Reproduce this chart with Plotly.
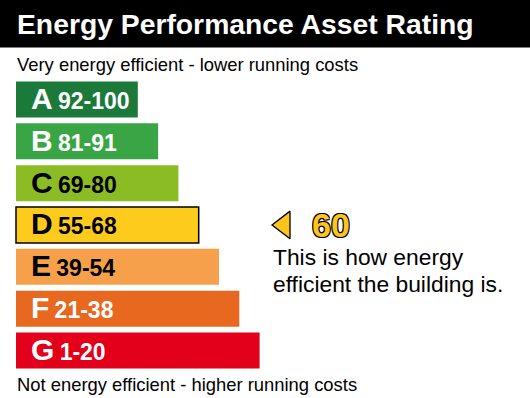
import plotly.graph_objects as go

# ---- data ----
title = "Energy Performance Asset Rating"
top_note = "Very energy efficient - lower running costs"
bottom_note = "Not energy efficient - higher running costs"
bands = ["A", "B", "C", "D", "E", "F", "G"]
band_ranges = ["92-100", "81-91", "69-80", "55-68", "39-54", "21-38", "1-20"]
band_lows = [92, 81, 69, 55, 39, 21, 1]
band_highs = [100, 91, 80, 68, 54, 38, 20]
bar_lengths = [6, 7, 8, 9, 10, 11, 12]
band_colors = ["#1b7a3a", "#3aa545", "#8cbc24", "#fdcb1c", "#f7a04b", "#e9681f", "#e2001a"]
label_colors = ["white", "white", "black", "black", "black", "white", "white"]
current_rating = 60
caption = ["This is how energy", "efficient the building is."]

# ---- geometry helpers (pixels of the 530x398 canvas) ----
W, H = 530, 398
UNIT = 20.3          # px per bar-length unit
LEFT = 16            # px where bars start
ROW0 = 99.5          # px centre of first row
PITCH = 41.83        # px between rows
FONT = "Liberation Sans, Arial, sans-serif"

def px_x(p):
    return p / W

def px_y(p):
    return 1 - p / H

cur_idx = next(i for i, (lo, hi) in enumerate(zip(band_lows, band_highs))
               if lo <= current_rating <= hi)

line_w = [1.5 if i == cur_idx else 0 for i in range(len(bands))]

fig = go.Figure()
fig.add_trace(go.Bar(
    y=bands, x=bar_lengths, orientation="h", width=0.86,
    marker=dict(color=band_colors, line=dict(color="black", width=line_w)),
    hoverinfo="skip", showlegend=False,
))

# pointer triangle at the current band
fig.add_trace(go.Scatter(
    x=[(284 - LEFT) / UNIT], y=[bands[cur_idx]], mode="markers",
    marker=dict(symbol="triangle-left", size=24, color="#fcc41c",
                line=dict(color="black", width=1.3)),
    cliponaxis=False, hoverinfo="skip", showlegend=False,
))

annotations = []
# band labels
for b, r, c in zip(bands, band_ranges, label_colors):
    annotations.append(dict(
        x=0, y=b, xref="x", yref="y", xanchor="left", yanchor="middle",
        xshift=13, yshift=1, showarrow=False,
        text=(f"<span style='font-size:30px'><b>{b}</b></span>"
              f"<span style='font-size:19px'> </span><b>{r}</b>"),
        font=dict(family=FONT, size=23, color=c),
    ))

# rating value
outline = "-1px -1px 0 #000, 1px -1px 0 #000, -1px 1px 0 #000, 1px 1px 0 #000"
annotations.append(dict(
    x=px_x(310), y=bands[cur_idx], xref="paper", yref="y",
    xanchor="left", yanchor="middle", showarrow=False,
    text=f"<b>{current_rating}</b>",
    font=dict(family=FONT, size=34, color="#fcc41c", shadow=outline),
))

# caption lines
for k, line in enumerate(caption):
    annotations.append(dict(
        x=px_x(271), y=px_y(257 + 27 * k), xref="paper", yref="paper",
        xanchor="left", yanchor="middle", showarrow=False, text=line,
        font=dict(family=FONT, size=22.8, color="black"),
    ))

# header and notes
annotations.append(dict(
    x=px_x(15), y=px_y(24), xref="paper", yref="paper",
    xanchor="left", yanchor="middle", showarrow=False,
    text=f"<b>{title}</b>", font=dict(family=FONT, size=28.3, color="white"),
))
annotations.append(dict(
    x=px_x(15), y=px_y(64), xref="paper", yref="paper",
    xanchor="left", yanchor="middle", showarrow=False,
    text=top_note, font=dict(family=FONT, size=18.4, color="black"),
))
annotations.append(dict(
    x=px_x(15), y=px_y(384), xref="paper", yref="paper",
    xanchor="left", yanchor="middle", showarrow=False,
    text=bottom_note, font=dict(family=FONT, size=18.4, color="black"),
))

fig.update_layout(
    width=W, height=H,
    margin=dict(l=0, r=0, t=0, b=0),
    paper_bgcolor="white", plot_bgcolor="white",
    xaxis=dict(visible=False, range=[-LEFT / UNIT, (W - LEFT) / UNIT], fixedrange=True),
    yaxis=dict(visible=False, type="category", categoryorder="array", categoryarray=bands,
               range=[(H - ROW0) / PITCH, -ROW0 / PITCH], fixedrange=True),
    shapes=[dict(type="rect", xref="paper", yref="paper", x0=0, x1=1,
                 y0=px_y(47.5), y1=1, fillcolor="black", line=dict(width=0), layer="below")],
    annotations=annotations,
)

fig.write_html("out.html", config={"displayModeBar": False},
               post_script="document.body.style.margin='0';document.body.style.overflow='hidden';")
